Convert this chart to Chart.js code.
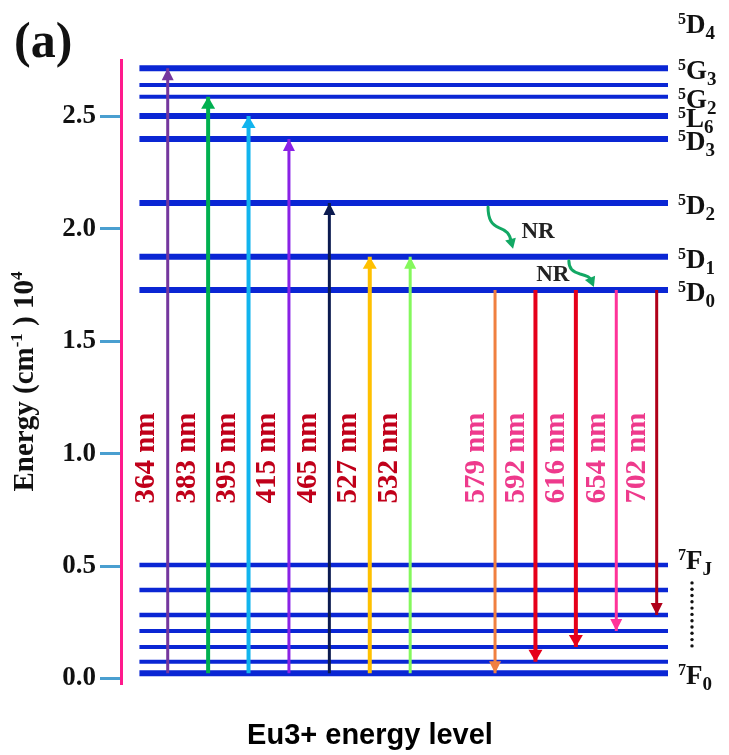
<!DOCTYPE html>
<html><head><meta charset="utf-8">
<script src="https://cdn.jsdelivr.net/npm/chart.js@4/dist/chart.umd.min.js"></script>
<style>html,body{margin:0;padding:0;background:#fff}canvas{display:block}</style>
</head><body>
<canvas id="c" width="729" height="755"></canvas>
<script>
// ---------------- data ----------------
const yTicks = [0.0, 0.5, 1.0, 1.5, 2.0, 2.5];
// energy levels (x10^4 cm-1): 7F0..7F6, 5D0, 5D1, 5D2, 5D3, 5L6, 5G2, (5G), 5G3
const levelEnergies = [0.023, 0.075, 0.140, 0.211, 0.282, 0.394, 0.505, 1.727, 1.875, 2.114, 2.399, 2.501, 2.587, 2.639, 2.713];
// level labels
const labelSup = ['7', '7', '5', '5', '5', '5', '5', '5', '5', '5'];
const labelMain = ['F', 'F', 'D', 'D', 'D', 'D', 'L', 'G', 'G', 'D'];
const labelSub = ['0', 'J', '0', '1', '2', '3', '6', '2', '3', '4'];
const labelEnergies = [0.023, 0.505, 1.727, 1.875, 2.114, 2.399, 2.501, 2.587, 2.713, 2.92];
// excitation transitions (from 7F0 upward)
const excitationNm = [364, 383, 395, 415, 465, 527, 532];
const excitationFrom = 0.023;
const excitationTo = [2.713, 2.587, 2.501, 2.399, 2.114, 1.875, 1.875];
// emission transitions (from 5D0 downward)
const emissionNm = [579, 592, 616, 654, 702];
const emissionFrom = 1.727;
const emissionTo = [0.023, 0.075, 0.140, 0.211, 0.282];
// non-radiative relaxations
const nrFrom = [2.114, 1.875];
const nrTo = [1.875, 1.727];
const xTitle = 'Eu3+ energy level';
const yTitleParts = [['Energy (cm', false], ['-1', true], [' ) 10', false], ['4', true]];

// ---------------- styles ----------------
const levelWidths = [6, 4, 4, 4, 4.5, 4.5, 4.5, 6, 6, 6, 6, 6, 4, 4, 6];
const levelColor = '#0A26D4';
const excitationColors = ['#74379E', '#00B050', '#11B4EE', '#8A22E6', '#0B1A50', '#FFC000', '#84F85C'];
const excitationWidths = [3, 4, 4, 3, 3, 4, 3];
const emissionColors = ['#F08040', '#E5001A', '#E5001A', '#FF3399', '#B0001A'];
const emissionWidths = [3, 4, 4, 3, 3];
const X_MIN = -0.156, X_MAX = 13.38, LINE_START = 0.3;

const excSlot = i => i + 1;
const emSlot = i => excitationNm.length + 2.1 + i;

const datasets = [];
levelEnergies.forEach((e, i) => {
  datasets.push({
    type: 'line', order: 2, kind: 'level',
    data: [{x: LINE_START, y: e}, {x: X_MAX, y: e}],
    borderColor: levelColor, borderWidth: levelWidths[i], pointRadius: 0, borderCapStyle: 'butt'
  });
});
excitationNm.forEach((nm, i) => {
  datasets.push({
    type: 'line', order: 1, kind: 'arrow', label: nm + ' nm', labelColor: '#C0001A', labelDx: -21,
    data: [{x: excSlot(i), y: excitationFrom}, {x: excSlot(i), y: excitationTo[i]}],
    borderColor: excitationColors[i], borderWidth: excitationWidths[i], pointRadius: 0
  });
});
emissionNm.forEach((nm, i) => {
  datasets.push({
    type: 'line', order: 1, kind: 'arrow', label: nm + ' nm', labelColor: '#EE3A8C', labelDx: -19,
    data: [{x: emSlot(i), y: emissionFrom}, {x: emSlot(i), y: emissionTo[i]}],
    borderColor: emissionColors[i], borderWidth: emissionWidths[i], pointRadius: 0
  });
});

function triangle(ctx, tx, ty, dx, dy, len, hw, color) {
  const bx = tx - dx * len, by = ty - dy * len;
  ctx.beginPath();
  ctx.moveTo(tx, ty);
  ctx.lineTo(bx - dy * hw, by + dx * hw);
  ctx.lineTo(bx + dy * hw, by - dx * hw);
  ctx.closePath();
  ctx.fillStyle = color;
  ctx.fill();
}

const decor = {
  id: 'decor',
  afterDraw(chart) {
    const ctx = chart.ctx, ys = chart.scales.y, xs = chart.scales.x, area = chart.chartArea;
    ctx.save();
    // arrowheads + wavelength labels
    chart.data.datasets.forEach((ds, di) => {
      if (ds.kind !== 'arrow') return;
      const pts = chart.getDatasetMeta(di).data;
      const p0 = pts[0], p1 = pts[1];
      let dx = p1.x - p0.x, dy = p1.y - p0.y;
      const L = Math.hypot(dx, dy); dx /= L; dy /= L;
      triangle(ctx, p1.x, p1.y, dx, dy, 12, ds.borderWidth >= 4 ? 7 : 6, ds.borderColor);
      ctx.save();
      ctx.translate(p0.x + ds.labelDx, ys.getPixelForValue(0.98));
      ctx.rotate(-Math.PI / 2);
      ctx.font = 'bold 29px "Liberation Serif"';
      ctx.fillStyle = ds.labelColor;
      ctx.textAlign = 'center';
      ctx.textBaseline = 'middle';
      ctx.fillText(ds.label, 0, 0);
      ctx.restore();
    });
    // NR wavy arrows
    const nrStartSlots = [emSlot(0), emSlot(2)];
    nrFrom.forEach((f, i) => {
      const sx = xs.getPixelForValue(nrStartSlots[i]) - 7;
      const sy = ys.getPixelForValue(f) + 4;
      const ex = sx + 25;
      const ey = ys.getPixelForValue(nrTo[i]) - (i === 0 ? 8 : 3);
      const w = ex - sx, h = ey - sy;
      const px = sx + 0.86 * w, py = sy + 0.68 * h;
      let dx = ex - px, dy = ey - py; const L = Math.hypot(dx, dy); dx /= L; dy /= L;
      const bx = ex - dx * 8, by = ey - dy * 8;
      ctx.beginPath();
      ctx.moveTo(sx, sy);
      ctx.bezierCurveTo(sx, sy + 0.3 * h, sx + 0.15 * w, sy + 0.42 * h, sx + 0.45 * w, sy + 0.5 * h);
      ctx.bezierCurveTo(sx + 0.75 * w, sy + 0.57 * h, px, py - 0.05 * h, bx, by);
      ctx.strokeStyle = '#12A864'; ctx.lineWidth = 3; ctx.lineCap = 'round';
      ctx.stroke();
      triangle(ctx, ex, ey, dx, dy, 10, 5.5, '#12A864');
      ctx.font = 'bold 23px "Liberation Serif"';
      ctx.fillStyle = '#222'; ctx.textAlign = 'center'; ctx.textBaseline = 'middle';
      const my = (ys.getPixelForValue(f) + ys.getPixelForValue(nrTo[i])) / 2 + 2;
      ctx.fillText('NR', i === 0 ? sx + 50 : sx - 16, my);
    });
    // level labels on the right
    ctx.fillStyle = '#111';
    ctx.textAlign = 'left';
    ctx.textBaseline = 'alphabetic';
    labelEnergies.forEach((e, i) => {
      const base = ys.getPixelForValue(e) + (i === 1 ? 4 : 11);
      const x0 = area.right + 10;
      ctx.font = 'bold 16px "Liberation Serif"';
      ctx.fillText(labelSup[i], x0, base - 9);
      const mx = x0 + 8;
      ctx.font = 'bold 27px "Liberation Serif"';
      ctx.fillText(labelMain[i], mx, base);
      const sx = mx + ctx.measureText(labelMain[i]).width;
      ctx.font = 'bold 19px "Liberation Serif"';
      ctx.fillText(labelSub[i], sx, base + 6);
    });
    // dotted line between 7FJ and 7F0
    const dxp = area.right + 24;
    const yTop = ys.getPixelForValue(0.505) + 18, yBot = ys.getPixelForValue(0.023) - 24;
    for (let y = yTop; y <= yBot; y += 6.3) {
      ctx.beginPath(); ctx.arc(dxp, y, 1.7, 0, Math.PI * 2); ctx.fill();
    }
    // y-axis title with superscripts (rotated)
    ctx.save();
    ctx.translate(23, (area.top + area.bottom) / 2 + 10);
    ctx.rotate(-Math.PI / 2);
    const bigF = 'bold 29px "Liberation Serif"', supF = 'bold 17px "Liberation Serif"';
    let total = 0;
    yTitleParts.forEach(([t, sup]) => { ctx.font = sup ? supF : bigF; total += ctx.measureText(t).width; });
    let cx = -total / 2;
    ctx.textBaseline = 'alphabetic';
    ctx.fillStyle = '#111';
    yTitleParts.forEach(([t, sup]) => {
      ctx.font = sup ? supF : bigF;
      ctx.fillText(t, cx, sup ? -1 : 10);
      cx += ctx.measureText(t).width;
    });
    ctx.restore();
    // x title
    ctx.font = 'bold 29px "Liberation Sans"';
    ctx.fillStyle = '#000';
    ctx.textAlign = 'center';
    ctx.fillText(xTitle, 370, 744);
    // panel tag
    ctx.textAlign = 'left';
    ctx.font = 'bold 50px "Liberation Serif"';
    ctx.fillStyle = '#111';
    ctx.fillText('(a)', 14, 57);
    ctx.restore();
  }
};

new Chart(document.getElementById('c'), {
  type: 'line',
  data: {datasets},
  options: {
    responsive: false, animation: false, devicePixelRatio: 1,
    layout: {padding: {top: 60, left: 0, right: 61, bottom: 72}},
    plugins: {legend: {display: false}, tooltip: {enabled: false}, title: {display: false}},
    scales: {
      x: {type: 'linear', min: X_MIN, max: X_MAX, display: false},
      y: {
        type: 'linear', min: -0.02, max: 2.75,
        afterFit: s => { s.width = 121; },
        afterBuildTicks: s => { s.ticks = yTicks.map(v => ({value: v})); },
        grid: {display: true, drawOnChartArea: false, drawTicks: true, tickLength: 21, color: '#4A9FD0', lineWidth: 3},
        border: {display: true, color: '#FF1A8C', width: 3},
        ticks: {padding: 4, color: '#111', font: {family: '"Liberation Serif"', size: 27, weight: 'bold'}, callback: v => Number(v).toFixed(1)},
        title: {display: false}
      }
    }
  },
  plugins: [decor]
});
</script>
</body></html>
